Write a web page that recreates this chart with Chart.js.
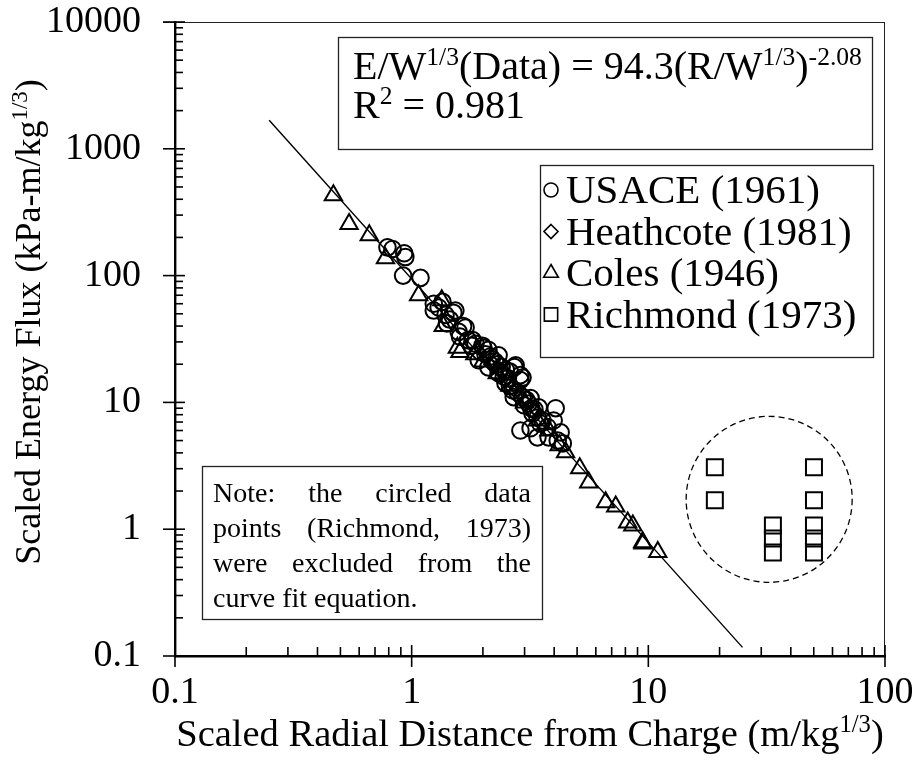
<!DOCTYPE html>
<html><head><meta charset="utf-8">
<script src="https://cdn.jsdelivr.net/npm/chart.js@4/dist/chart.umd.min.js"></script>
<style>html,body{margin:0;padding:0;background:#fff;}canvas{display:block;}</style>
</head><body>
<canvas id="c" width="917" height="761"></canvas>
<script>
// ---------- data ----------
const usaceX = [0.79,0.83,0.93,0.94,0.92,1.09,1.24,1.30,1.35,1.24,1.39,1.50,1.53,1.41,1.65,1.58,1.69,1.73,1.79,1.81,1.86,1.92,1.99,2.01,2.05,2.11,2.11,2.18,2.25,2.33,2.33,2.40,2.45,2.49,2.55,2.60,2.67,2.72,2.75,2.70,2.80,2.88,2.88,2.94,2.94,2.98,3.05,3.12,3.18,3.24,3.20,3.30,3.40,3.44,3.57,3.50,3.75,3.40,3.79,3.98,4.06,4.14,4.26,4.35,2.88,3.18,2.30,2.60,2.15,1.45,1.60,2.50];
const usaceY = [167,162,150,140,100,96,60,56,62,53,49,51,53,42,40,36,39,31,28,31,29,21.5,28,27,24,26,18.9,22,21,23.5,17,19,16,14.2,15.5,13.5,12.5,19,19.6,11,12,16.4,15,11,15.7,9.5,10.5,9.8,10.8,8.2,9.0,8.8,7.6,9.15,7.2,6.8,6.4,5.3,5.3,7.2,9.0,5.0,5.8,4.75,6.0,6.25,20,17.5,23,45,33,18];
const heathX = [1.9,2.2,2.45,2.7,3.0,3.3];
const heathY = [25,20,17,13,11,8.5];
const colesX = [0.467,0.544,0.662,0.775,1.07,1.34,1.36,1.56,1.60,1.85,2.0,2.3,2.6,3.0,3.4,3.8,4.2,4.47,5.13,5.6,6.6,7.28,8.18,8.6,9.46,9.5,10.96];
const colesY = [431,255,208,137,70,64,40,27,25,24,21,17,13.5,10,7.2,6,4.6,4.04,3.02,2.34,1.63,1.51,1.13,1.07,0.79,0.77,0.66];
const richX = [19.1,19.1,33.6,33.6,33.6,50.1,50.1,50.1,50.1,50.1];
const richY = [3.08,1.69,1.07,0.845,0.656,3.08,1.69,1.07,0.845,0.656];
const fitX = [0.25,25];
const fitY = [1680,0.117];
const xTicks = [0.1,1,10,100];
const yTicks = [0.1,1,10,100,1000,10000];
const minorMult = [2,3,4,5,6,7,8,9];
const seriesLabels = ['USACE (1961)','Heathcote (1981)','Coles (1946)','Richmond (1973)'];
const excludedCenter = {x:32.4, y:1.72};

// ---------- helpers ----------
const FONT = '"Liberation Serif","Times New Roman",serif';
const pts = (xs, ys) => xs.map((x,i)=>({x:x, y:ys[i]}));
function drawRich(ctx, parts, x, y, size){
  let cx = x;
  for (const p of parts){
    const s = p.sup ? size*0.64 : size;
    ctx.font = s + 'px ' + FONT;
    ctx.fillText(p.t, cx, p.sup ? y - size*0.36 : y);
    cx += ctx.measureText(p.t).width;
  }
  return cx - x;
}
function richWidth(ctx, parts, size){
  let w = 0;
  for (const p of parts){
    ctx.font = (p.sup ? size*0.64 : size) + 'px ' + FONT;
    w += ctx.measureText(p.t).width;
  }
  return w;
}
function marker(ctx, style, x, y, r){
  ctx.beginPath();
  if (style==='circle'){ ctx.arc(x,y,r,0,Math.PI*2); }
  else if (style==='rectRot'){ ctx.moveTo(x,y-r); ctx.lineTo(x+r,y); ctx.lineTo(x,y+r); ctx.lineTo(x-r,y); ctx.closePath(); }
  else if (style==='triangle'){ ctx.moveTo(x,y-r); ctx.lineTo(x+r*0.866,y+r*0.5); ctx.lineTo(x-r*0.866,y+r*0.5); ctx.closePath(); }
  else { ctx.rect(x-r*0.95,y-r*0.95,r*1.9,r*1.9); }
  ctx.stroke();
}
function line(ctx,x1,y1,x2,y2){ ctx.beginPath(); ctx.moveTo(x1,y1); ctx.lineTo(x2,y2); ctx.stroke(); }

const decor = {
  id:'decor',
  afterDraw(chart){
    const ctx = chart.ctx, a = chart.chartArea, xs = chart.scales.x, ys = chart.scales.y;
    ctx.save();
    // thin top/right frame
    ctx.strokeStyle = '#222'; ctx.lineWidth = 1;
    line(ctx, a.left-12, a.top+0.5, a.right, a.top+0.5);
    line(ctx, a.right-0.5, a.top, a.right-0.5, a.bottom);
    // ticks
    ctx.strokeStyle = '#000'; ctx.lineWidth = 1.6;
    xTicks.forEach(v=>{
      const p = xs.getPixelForValue(v);
      line(ctx, p, a.bottom+11, p, a.bottom-11);
      if (v < 100) minorMult.forEach(m=>{ const q = xs.getPixelForValue(v*m); line(ctx, q, a.bottom, q, a.bottom-9); });
    });
    yTicks.forEach(v=>{
      const p = ys.getPixelForValue(v);
      line(ctx, a.left-12, p, a.left+10, p);
      if (v < 10000) minorMult.forEach(m=>{ const q = ys.getPixelForValue(v*m); line(ctx, a.left, q, a.left+8, q); });
    });
    // dashed circle round excluded points
    ctx.setLineDash([6,4]); ctx.lineWidth = 1.3;
    ctx.beginPath();
    ctx.arc(xs.getPixelForValue(excludedCenter.x), ys.getPixelForValue(excludedCenter.y), 83, 0, Math.PI*2);
    ctx.stroke();
    ctx.setLineDash([]);
    // equation box
    ctx.fillStyle = '#fff'; ctx.strokeStyle = '#222'; ctx.lineWidth = 1.3;
    ctx.fillRect(338,37,534,112); ctx.strokeRect(338.5,37.5,534,112);
    ctx.fillStyle = '#000'; ctx.textBaseline = 'alphabetic'; ctx.textAlign = 'left';
    drawRich(ctx, [{t:'E/W'},{t:'1/3',sup:1},{t:'(Data) = 94.3(R/W'},{t:'1/3',sup:1},{t:')'},{t:'-2.08',sup:1}], 353, 79, 40);
    drawRich(ctx, [{t:'R'},{t:'2',sup:1},{t:' = 0.981'}], 353, 118, 40);
    // legend box
    ctx.fillStyle = '#fff';
    ctx.fillRect(540,165,333,192); ctx.strokeRect(540.5,165.5,333,192);
    const styles = chart.data.datasets.slice(0,4).map(d=>d.pointStyle);
    ctx.fillStyle = '#000'; ctx.strokeStyle = '#000'; ctx.lineWidth = 1.6;
    seriesLabels.forEach((lab,i)=>{
      const by = 203 + i*41.5;
      marker(ctx, styles[i], 551, by-13, styles[i]==='triangle' ? 8.5 : 7);
      ctx.font = '41px ' + FONT;
      ctx.fillText(lab, 566, by);
    });
    // note box
    ctx.fillStyle = '#fff'; ctx.strokeStyle = '#222'; ctx.lineWidth = 1.3;
    ctx.fillRect(202,466,340,153); ctx.strokeRect(202.5,466.5,340,153);
    ctx.fillStyle = '#000'; ctx.font = '28px ' + FONT;
    const noteLines = ['Note: the circled data','points (Richmond, 1973)','were excluded from the','curve fit equation.'];
    noteLines.forEach((ln,i)=>{
      const by = 502 + i*35;
      if (i === noteLines.length-1){ ctx.fillText(ln, 213, by); return; }
      const words = ln.split(' ');
      const ww = words.map(w=>ctx.measureText(w).width);
      const gap = (531-213 - ww.reduce((s,v)=>s+v,0)) / (words.length-1);
      let cx = 213;
      words.forEach((w,j)=>{ ctx.fillText(w, cx, by); cx += ww[j] + gap; });
    });
    // axis titles
    const xt = [{t:'Scaled Radial Distance from Charge (m/kg'},{t:'1/3',sup:1},{t:')'}];
    const wx = richWidth(ctx, xt, 38.5);
    drawRich(ctx, xt, (a.left+a.right)/2 - wx/2, 746, 38.5);
    const yt = [{t:'Scaled Energy Flux (kPa-m/kg'},{t:'1/3',sup:1},{t:')'}];
    const wy = richWidth(ctx, yt, 36);
    ctx.translate(40, 322);
    ctx.rotate(-Math.PI/2);
    drawRich(ctx, yt, -wy/2, 0, 36);
    ctx.restore();
  }
};

const ds = (label, xs, ys, style, r) => ({label, data: pts(xs, ys), pointStyle: style, pointRadius: r,
  pointBorderWidth: 2, borderColor:'#000', backgroundColor:'rgba(0,0,0,0)', pointBackgroundColor:'rgba(0,0,0,0)', showLine:false});

const zeroPad = s => { s.paddingTop = 0; s.paddingBottom = 0; s.paddingLeft = 0; s.paddingRight = 0; };

new Chart(document.getElementById('c'), {
  type: 'scatter',
  data: { datasets: [
    ds(seriesLabels[0], usaceX, usaceY, 'circle', 8.3),
    ds(seriesLabels[1], heathX, heathY, 'rectRot', 8.5),
    ds(seriesLabels[2], colesX, colesY, 'triangle', 10),
    ds(seriesLabels[3], richX, richY, 'rect', 11.3),
    {label:'Fit', data: pts(fitX, fitY), showLine:true, pointRadius:0, borderColor:'#000', borderWidth:1.4, fill:false}
  ]},
  options: {
    responsive:false, animation:false, devicePixelRatio:1,
    layout:{autoPadding:false, padding:{top:22, right:32, left:0, bottom:0}},
    plugins:{legend:{display:false}, tooltip:{enabled:false}},
    scales:{
      x:{type:'logarithmic', min:0.1, max:100,
         grid:{display:false, drawTicks:false}, border:{display:true, color:'#000', width:2.4},
         afterBuildTicks: s => { s.ticks = xTicks.map(v=>({value:v})); },
         afterFit: s => { s.height = 105; zeroPad(s); },
         ticks:{color:'#000', font:{family:FONT, size:38}, padding:14, maxRotation:0, autoSkip:false, callback: v => String(v)}},
      y:{type:'logarithmic', min:0.1, max:10000,
         grid:{display:false, drawTicks:false}, border:{display:true, color:'#000', width:2.4},
         afterBuildTicks: s => { s.ticks = yTicks.map(v=>({value:v})); },
         afterFit: s => { s.width = 175; zeroPad(s); },
         ticks:{color:'#000', font:{family:FONT, size:38}, padding:34, autoSkip:false, callback: v => String(v)}}
    }
  },
  plugins:[decor]
});
</script>
</body></html>
